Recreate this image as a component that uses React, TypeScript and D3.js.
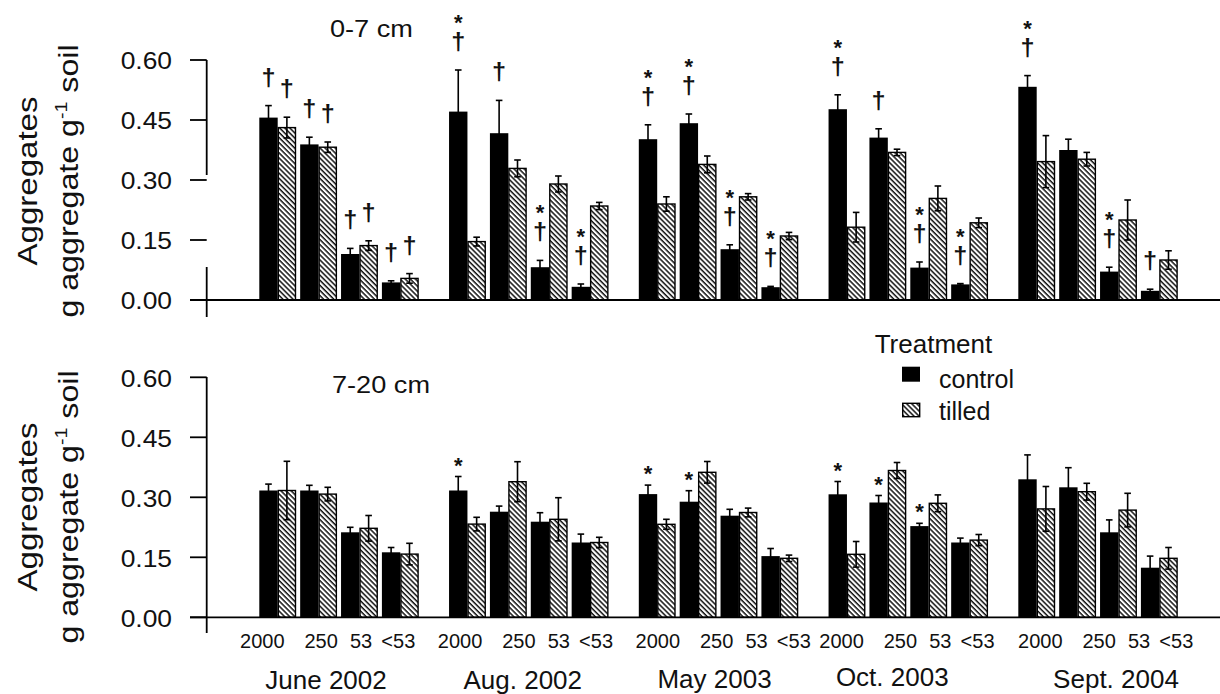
import React, { useEffect, useRef } from 'react';
import * as d3 from 'd3';

const dates = ['June 2002', 'Aug. 2002', 'May 2003', 'Oct. 2003', 'Sept. 2004'];
const sizes = ['2000', '250', '53', '<53'];
const treatments = ['control', 'tilled'];
const yTicks = [0, 0.15, 0.3, 0.45, 0.6];

// 0-7 cm depth, rows = dates, cols = sizes
const controlTop = [
  [0.456, 0.389, 0.115, 0.044],
  [0.471, 0.417, 0.082, 0.033],
  [0.402, 0.442, 0.127, 0.032],
  [0.477, 0.406, 0.081, 0.039],
  [0.533, 0.375, 0.071, 0.023],
];
const controlTopErr = [
  [0.03, 0.018, 0.014, 0.004],
  [0.104, 0.082, 0.017, 0.007],
  [0.036, 0.023, 0.011, 0.002],
  [0.036, 0.022, 0.014, 0.002],
  [0.028, 0.027, 0.011, 0.004],
];
const tilledTop = [
  [0.431, 0.382, 0.136, 0.054],
  [0.146, 0.329, 0.29, 0.235],
  [0.24, 0.339, 0.258, 0.16],
  [0.182, 0.369, 0.254, 0.193],
  [0.346, 0.352, 0.2, 0.1],
];
const tilledTopErr = [
  [0.026, 0.013, 0.012, 0.012],
  [0.011, 0.021, 0.02, 0.009],
  [0.018, 0.021, 0.008, 0.009],
  [0.037, 0.008, 0.031, 0.012],
  [0.065, 0.017, 0.05, 0.023],
];
const controlTopMarks = [
  ['†', '†', '†', '†'],
  ['*†', '†', '*†', '*†'],
  ['*†', '*†', '*†', '*†'],
  ['*†', '†', '*†', '*†'],
  ['*†', '', '*†', '†'],
];
const tilledTopMarks = [
  ['†', '†', '†', '†'],
  ['', '', '', ''],
  ['', '', '', ''],
  ['', '', '', ''],
  ['', '', '', ''],
];

// 7-20 cm depth
const controlBottom = [
  [0.317, 0.317, 0.2125, 0.1625],
  [0.317, 0.264, 0.239, 0.187],
  [0.308, 0.289, 0.254, 0.153],
  [0.3075, 0.287, 0.228, 0.187],
  [0.345, 0.325, 0.2125, 0.124],
];
const controlBottomErr = [
  [0.016, 0.013, 0.0125, 0.012],
  [0.035, 0.014, 0.0225, 0.021],
  [0.0225, 0.0275, 0.016, 0.019],
  [0.032, 0.0175, 0.007, 0.011],
  [0.061, 0.049, 0.031, 0.029],
];
const tilledBottom = [
  [0.317, 0.308, 0.2225, 0.158],
  [0.233, 0.339, 0.245, 0.187],
  [0.2325, 0.3625, 0.262, 0.1475],
  [0.1575, 0.367, 0.285, 0.193],
  [0.271, 0.314, 0.268, 0.1475],
];
const tilledBottomErr = [
  [0.073, 0.017, 0.032, 0.027],
  [0.017, 0.05, 0.054, 0.013],
  [0.0125, 0.027, 0.011, 0.008],
  [0.032, 0.02, 0.021, 0.014],
  [0.056, 0.021, 0.042, 0.027],
];
const controlBottomMarks = [
  ['', '', '', ''],
  ['*', '', '', ''],
  ['*', '*', '', ''],
  ['*', '*', '*', ''],
  ['', '', '', ''],
];
const tilledBottomMarks = [
  ['', '', '', ''],
  ['', '', '', ''],
  ['', '', '', ''],
  ['', '', '', ''],
  ['', '', '', ''],
];

const FONT = '"Liberation Sans", Arial, sans-serif';
const W = 1220;
const H = 694;

export default function App() {
  const svgRef = useRef<SVGSVGElement | null>(null);

  useEffect(() => {
    const svg = d3.select(svgRef.current);
    svg.selectAll('*').remove();

    // hatch for tilled bars
    svg.append('defs').append('pattern')
      .attr('id', 'hatch')
      .attr('patternUnits', 'userSpaceOnUse')
      .attr('width', 8)
      .attr('height', 3.6)
      .attr('patternTransform', 'rotate(45)')
      .call(p => {
        p.append('rect').attr('width', 8).attr('height', 3.6).attr('fill', '#fff');
        p.append('rect').attr('width', 8).attr('height', 1.5).attr('fill', '#111');
      });

    const x0 = d3.scaleBand<string>().domain(dates).range([259.3, 1177.7]).paddingInner(0.16).paddingOuter(0);
    const x1 = d3.scaleBand<string>().domain(sizes).range([0, x0.bandwidth()]).paddingInner(0.1);
    const x2 = d3.scaleBand<string>().domain(treatments).range([0, x1.bandwidth()]);

    const text = (g: any, str: string, x: number, y: number, size: number, anchor = 'start', sx = 1, rot = 0) =>
      g.append('text')
        .attr('transform', `translate(${x},${y})${rot ? ` rotate(${rot})` : ''} scale(${sx},1)`)
        .attr('text-anchor', anchor)
        .attr('font-family', FONT)
        .attr('font-size', size)
        .attr('fill', '#111')
        .text(str);

    const panels = [
      {
        title: '0-7 cm', titleX: 330, titleY: 36.5,
        y: d3.scaleLinear().domain([0, 0.6]).range([300, 60]),
        axisSegs: [[60, 175], [267, 317]], labelCenter: 181,
        series: [
          [controlTop, controlTopErr, controlTopMarks],
          [tilledTop, tilledTopErr, tilledTopMarks],
        ],
      },
      {
        title: '7-20 cm', titleX: 332, titleY: 393,
        y: d3.scaleLinear().domain([0, 0.6]).range([617.3, 377.3]),
        axisSegs: [[377, 633]], labelCenter: 507,
        series: [
          [controlBottom, controlBottomErr, controlBottomMarks],
          [tilledBottom, tilledBottomErr, tilledBottomMarks],
        ],
      },
    ];

    const axisX = 206.7;

    panels.forEach(panel => {
      const g = svg.append('g');
      const y = panel.y;

      // bars, error bars, marks
      dates.forEach((d, gi) => {
        sizes.forEach((s, si) => {
          treatments.forEach((t, ti) => {
            const [vals, errs, marks] = panel.series[ti] as any;
            const v = vals[gi][si];
            const e = errs[gi][si];
            const bx = (x0(d) as number) + (x1(s) as number) + (x2(t) as number);
            const bw = x2.bandwidth();
            const cx = bx + bw / 2;

            g.append('rect')
              .attr('x', t === 'tilled' ? bx + 0.6 : bx)
              .attr('y', y(v))
              .attr('width', t === 'tilled' ? bw - 1.2 : bw)
              .attr('height', y(0) - y(v))
              .attr('fill', t === 'control' ? '#000' : 'url(#hatch)')
              .attr('stroke', t === 'control' ? 'none' : '#000')
              .attr('stroke-width', 1.4);

            const top = y(v + e);
            const bot = y(Math.max(0, v - e));
            g.append('line')
              .attr('x1', cx).attr('x2', cx).attr('y1', top).attr('y2', bot)
              .attr('stroke', '#000').attr('stroke-width', 1.6);
            [top, bot].forEach(cy => {
              g.append('line')
                .attr('x1', cx - 3.3).attr('x2', cx + 3.3).attr('y1', cy).attr('y2', cy)
                .attr('stroke', '#000').attr('stroke-width', 1.6);
            });

            const m: string = marks[gi][si];
            if (m.includes('†')) {
              const dc = top - 27;
              text(g, '†', cx, dc + 7, 23, 'middle', 1.1).attr('font-weight', 'bold');
              if (m.includes('*')) text(g, '*', cx, dc - 25 + 12, 22, 'middle').attr('font-weight', 'bold');
            } else if (m.includes('*')) {
              text(g, '*', cx, top - 16 + 12, 22, 'middle').attr('font-weight', 'bold');
            }
          });
        });
      });

      // axes
      g.append('line')
        .attr('x1', 190).attr('x2', W).attr('y1', y(0)).attr('y2', y(0))
        .attr('stroke', '#000').attr('stroke-width', 1.8);
      panel.axisSegs.forEach(([a, b]) => {
        g.append('line')
          .attr('x1', axisX).attr('x2', axisX).attr('y1', a).attr('y2', b)
          .attr('stroke', '#000').attr('stroke-width', 1.8);
      });
      yTicks.forEach(tk => {
        g.append('line')
          .attr('x1', 190).attr('x2', axisX).attr('y1', y(tk)).attr('y2', y(tk))
          .attr('stroke', '#000').attr('stroke-width', 1.8);
        text(g, d3.format('.2f')(tk), 172, y(tk) + 9.3, 24, 'end', 1.1);
      });

      text(g, panel.title, panel.titleX, panel.titleY, 23, 'start', 1.18);

      // y label
      text(g, 'Aggregates', 36.7, panel.labelCenter, 28, 'middle', 1.18, -90);
      const l2 = g.append('text')
        .attr('transform', `translate(78.3,${panel.labelCenter}) rotate(-90) scale(1.15,1)`)
        .attr('text-anchor', 'middle')
        .attr('font-family', FONT)
        .attr('font-size', 28)
        .attr('fill', '#111');
      l2.append('tspan').text('g aggregate g');
      l2.append('tspan').attr('font-size', 17).attr('dy', -11).text('-1');
      l2.append('tspan').attr('dy', 11).text(' soil');
    });

    // x tick labels (bottom panel only)
    const rowShift = [-20, -12, -4, -10, -1];
    const sizeLabelX = [23, 81.8, 121.8, 159];
    const dateDx = [-13, -6, -4, -16, 18];
    const dateBase = [689, 689, 688, 686, 688];
    dates.forEach((d, gi) => {
      sizes.forEach((s, si) => {
        text(svg, s, (x0(d) as number) + rowShift[gi] + sizeLabelX[si], 648.3, 20, 'middle');
      });
      text(svg, d, (x0(d) as number) + x0.bandwidth() / 2 + dateDx[gi], dateBase[gi], 26, 'middle');
    });

    // legend
    text(svg, 'Treatment', 874.7, 352.7, 26, 'start');
    svg.append('rect').attr('x', 902).attr('y', 366.7).attr('width', 18).attr('height', 15).attr('fill', '#000');
    svg.append('rect').attr('x', 902.7).attr('y', 403.3).attr('width', 17).attr('height', 13.4)
      .attr('fill', 'url(#hatch)').attr('stroke', '#000').attr('stroke-width', 1.4);
    text(svg, 'control', 939, 388.3, 25, 'start');
    text(svg, 'tilled', 939, 420, 25, 'start');
  }, []);

  return (
    <svg
      ref={svgRef}
      width={W}
      height={H}
      style={{ position: 'absolute', left: 0, top: 0, background: '#fff' }}
    />
  );
}
